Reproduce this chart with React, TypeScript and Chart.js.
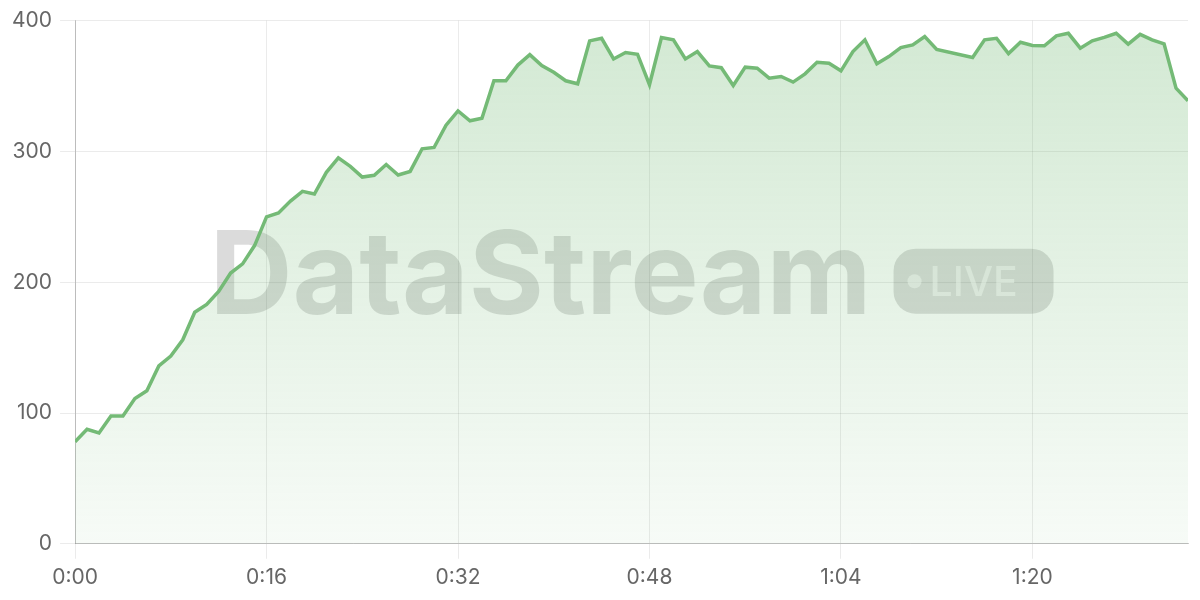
import React, { useEffect, useRef } from 'react';
import { Chart, registerables, Plugin } from 'chart.js';

Chart.register(...registerables);

// seconds since start (no samples at 73 and 74)
const times = [
  0, 1, 2, 3, 4, 5, 6, 7, 8, 9, 10, 11, 12, 13, 14, 15, 16, 17, 18, 19,
  20, 21, 22, 23, 24, 25, 26, 27, 28, 29, 30, 31, 32, 33, 34, 35, 36, 37, 38, 39,
  40, 41, 42, 43, 44, 45, 46, 47, 48, 49, 50, 51, 52, 53, 54, 55, 56, 57, 58, 59,
  60, 61, 62, 63, 64, 65, 66, 67, 68, 69, 70, 71, 72, 75, 76, 77, 78, 79,
  80, 81, 82, 83, 84, 85, 86, 87, 88, 89, 90, 91, 92, 93,
];

const values = [
  78, 87.5, 84.7, 97.7, 97.7, 111, 117, 136, 143.5, 156, 177, 183, 193, 207, 214, 228, 250, 253, 262, 269.5,
  267.4, 284, 295, 288.5, 280.4, 281.7, 290, 282, 284.7, 302, 303, 320, 331, 323.4, 325.4, 354, 354, 366, 374, 365.6,
  360.5, 354, 351.7, 384.5, 386.5, 370.7, 375.6, 374.3, 351, 387, 385.3, 370.7, 376.3, 365.4, 364, 350.4, 364.4, 363.6, 356, 357.3,
  353, 359.3, 368.2, 367.4, 361.6, 376.3, 385.3, 367, 372.5, 379.4, 381.4, 387.8, 378, 371.8, 385.3, 386.5, 374.8, 383.4,
  381, 380.7, 388.3, 390.3, 378.9, 384.5, 387.2, 390.3, 382, 389.5, 385.3, 382.2, 348.3, 338.7,
];

const brandText = 'DataStream';
const badgeText = 'LIVE';

const fmtTime = (v: number) => {
  const m = Math.floor(v / 60);
  const s = Math.round(v % 60);
  return `${m}:${s.toString().padStart(2, '0')}`;
};

const roundRect = (ctx: CanvasRenderingContext2D, x: number, y: number, w: number, h: number, r: number) => {
  ctx.beginPath();
  ctx.moveTo(x + r, y);
  ctx.lineTo(x + w - r, y);
  ctx.arcTo(x + w, y, x + w, y + r, r);
  ctx.lineTo(x + w, y + h - r);
  ctx.arcTo(x + w, y + h, x + w - r, y + h, r);
  ctx.lineTo(x + r, y + h);
  ctx.arcTo(x, y + h, x, y + h - r, r);
  ctx.lineTo(x, y + r);
  ctx.arcTo(x, y, x + r, y, r);
  ctx.closePath();
};

// big translucent brand mark in the middle of the plot
const watermark: Plugin<'line'> = {
  id: 'watermark',
  beforeDatasetsDraw(chart) {
    const { ctx, chartArea } = chart;
    const cx = (chartArea.left + chartArea.right) / 2;
    const cy = (chartArea.top + chartArea.bottom) / 2;
    ctx.save();
    ctx.font = '700 115px Inter';
    const textW = ctx.measureText(brandText).width;
    const gap = 22;
    const badgeW = 160;
    const badgeH = 65;
    const startX = cx - (textW + gap + badgeW) / 2;
    ctx.fillStyle = 'rgba(0, 0, 0, 0.14)';
    ctx.textBaseline = 'alphabetic';
    ctx.textAlign = 'left';
    ctx.fillText(brandText, startX, cy + 32);

    const bx = startX + textW + gap;
    const by = cy - 1 - badgeH / 2;
    roundRect(ctx, bx, by, badgeW, badgeH, 22);
    ctx.fill();

    ctx.fillStyle = 'rgba(255, 255, 255, 0.55)';
    ctx.beginPath();
    ctx.arc(bx + 21, cy - 1, 7, 0, Math.PI * 2);
    ctx.fill();
    ctx.font = '500 41px Inter';
    ctx.fillText(badgeText, bx + 36, cy + 14);
    ctx.restore();
  },
};

export default function App() {
  const canvasRef = useRef<HTMLCanvasElement>(null);
  const chartRef = useRef<Chart | null>(null);

  useEffect(() => {
    if (!canvasRef.current) return;
    if (chartRef.current) chartRef.current.destroy();
    const ctx = canvasRef.current.getContext('2d');
    if (!ctx) return;

    Chart.defaults.font.family = 'Inter, "Noto Sans", sans-serif';

    chartRef.current = new Chart(ctx, {
      type: 'line',
      data: {
        datasets: [
          {
            label: 'Throughput',
            data: times.map((t, i) => ({ x: t, y: values[i] })),
            borderColor: 'rgb(116, 186, 118)',
            borderWidth: 3.5,
            pointRadius: 0,
            tension: 0,
            fill: 'origin',
            backgroundColor: (c) => {
              const area = c.chart.chartArea;
              if (!area) return 'rgba(116, 186, 118, 0.2)';
              const g = c.chart.ctx.createLinearGradient(0, area.top, 0, area.bottom);
              g.addColorStop(0, 'rgba(116, 186, 118, 0.32)');
              g.addColorStop(1, 'rgba(116, 186, 118, 0.06)');
              return g;
            },
          },
        ],
      },
      options: {
        responsive: true,
        maintainAspectRatio: false,
        animation: false,
        layout: { padding: { top: 8, right: 12, left: 4, bottom: 4 } },
        plugins: {
          legend: { display: false },
          tooltip: { enabled: false },
        },
        scales: {
          x: {
            type: 'linear',
            min: 0,
            max: 93,
            grid: { color: 'rgba(0, 0, 0, 0.08)', tickLength: 15 },
            border: { color: 'rgba(0, 0, 0, 0.2)' },
            ticks: {
              stepSize: 16,
              includeBounds: false,
              color: '#666',
              font: { size: 21 },
              padding: 6,
              maxRotation: 0,
              callback: (v) => fmtTime(Number(v)),
            },
          },
          y: {
            min: 0,
            max: 400,
            grid: { color: 'rgba(0, 0, 0, 0.08)', tickLength: 15 },
            border: { color: 'rgba(0, 0, 0, 0.2)' },
            ticks: {
              stepSize: 100,
              color: '#666',
              font: { size: 21 },
              padding: 8,
            },
          },
        },
      },
      plugins: [watermark],
    });

    return () => {
      if (chartRef.current) {
        chartRef.current.destroy();
        chartRef.current = null;
      }
    };
  }, []);

  return (
    <div style={{ position: 'absolute', left: 0, top: 0, width: 1200, height: 600, background: '#fff' }}>
      <canvas ref={canvasRef}></canvas>
    </div>
  );
}
